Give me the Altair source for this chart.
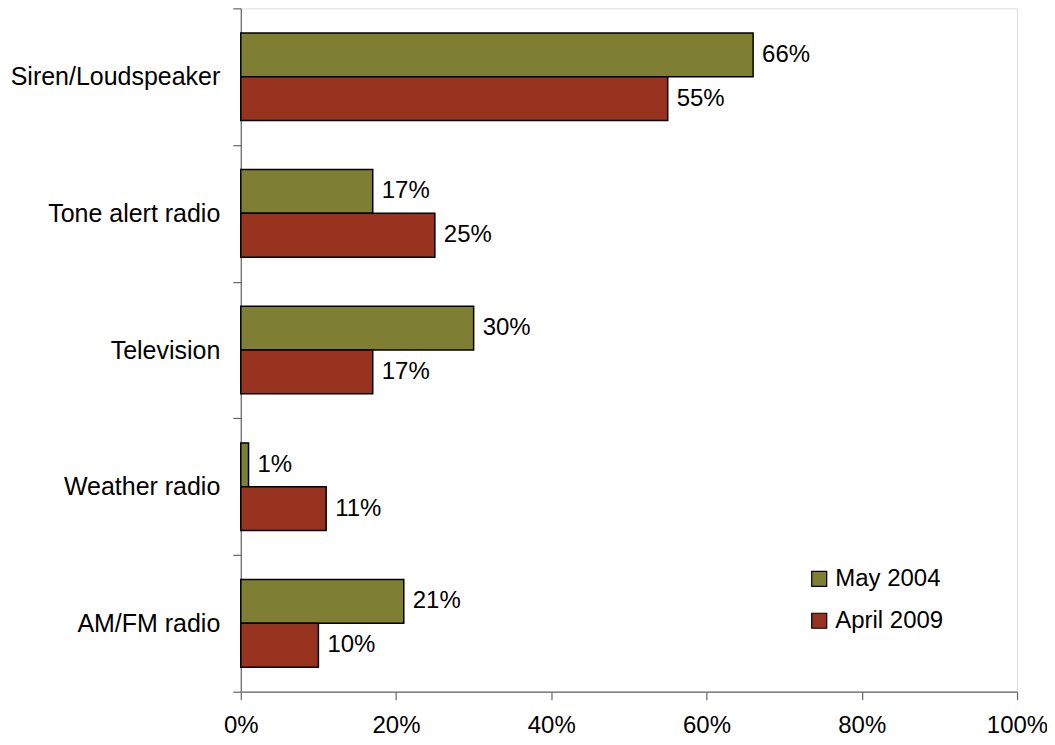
import altair as alt
import pandas as pd

categories = ["Siren/Loudspeaker", "Tone alert radio", "Television", "Weather radio", "AM/FM radio"]
series = ["May 2004", "April 2009"]
may_2004 = [0.66, 0.17, 0.30, 0.01, 0.21]
april_2009 = [0.55, 0.25, 0.17, 0.11, 0.10]
colors = ["#7f7f33", "#96321e"]

rows = []
for c, a, b in zip(categories, may_2004, april_2009):
    rows.append({"cat": c, "series": series[0], "value": a})
    rows.append({"cat": c, "series": series[1], "value": b})
df = pd.DataFrame(rows)

FONT = "Liberation Sans"

y_enc = alt.Y("cat:N", sort=categories, title=None,
              scale=alt.Scale(paddingInner=0, paddingOuter=0),
              axis=alt.Axis(tickBand="extent", labelFontSize=25, labelFont=FONT,
                            labelColor="black", labelPadding=13, tickSize=8,
                            labelLimit=0,
                            domainColor="#666666", tickColor="#666666",
                            domainWidth=1.2, tickWidth=1.2))
yoff = alt.YOffset("series:N", sort=series,
                   scale=alt.Scale(domain=series, paddingInner=0, paddingOuter=0.56))
x_enc = alt.X("value:Q", title=None,
              scale=alt.Scale(domain=[0, 1]),
              axis=alt.Axis(format="%", values=[0, 0.2, 0.4, 0.6, 0.8, 1.0],
                            labelFontSize=24, labelFont=FONT, labelColor="black",
                            labelFlush=False,
                            grid=False, tickSize=8, labelPadding=14,
                            domainColor="#666666", tickColor="#666666",
                            domainWidth=1.2, tickWidth=1.2))

base = alt.Chart(df)

bars = base.mark_bar(stroke="black", strokeWidth=1.5).encode(
    y=y_enc, yOffset=yoff, x=x_enc,
    color=alt.Color("series:N", sort=series,
                    scale=alt.Scale(domain=series, range=colors),
                    legend=alt.Legend(title=None, orient="none", legendX=567, legendY=559,
                                      symbolType="square", symbolSize=225,
                                      symbolStrokeColor="black", symbolStrokeWidth=1.2,
                                      labelFontSize=24, labelFont=FONT, labelColor="black",
                                      rowPadding=18, labelOffset=4)),
)

labels = base.mark_text(align="left", baseline="middle", dx=9, fontSize=24,
                        font=FONT, color="black").encode(
    y=alt.Y("cat:N", sort=categories),
    yOffset=yoff,
    x=alt.X("value:Q"),
    text=alt.Text("value:Q", format=".0%"),
)

chart = (bars + labels).properties(
    width=777, height=684,
    padding={"left": 233, "top": 0, "right": 30, "bottom": 52},
    autosize=alt.AutoSizeParams(type="none"),
).configure_view(stroke=None).configure(background="white")

chart.save("out.html", embed_options={"renderer": "svg", "actions": False})
